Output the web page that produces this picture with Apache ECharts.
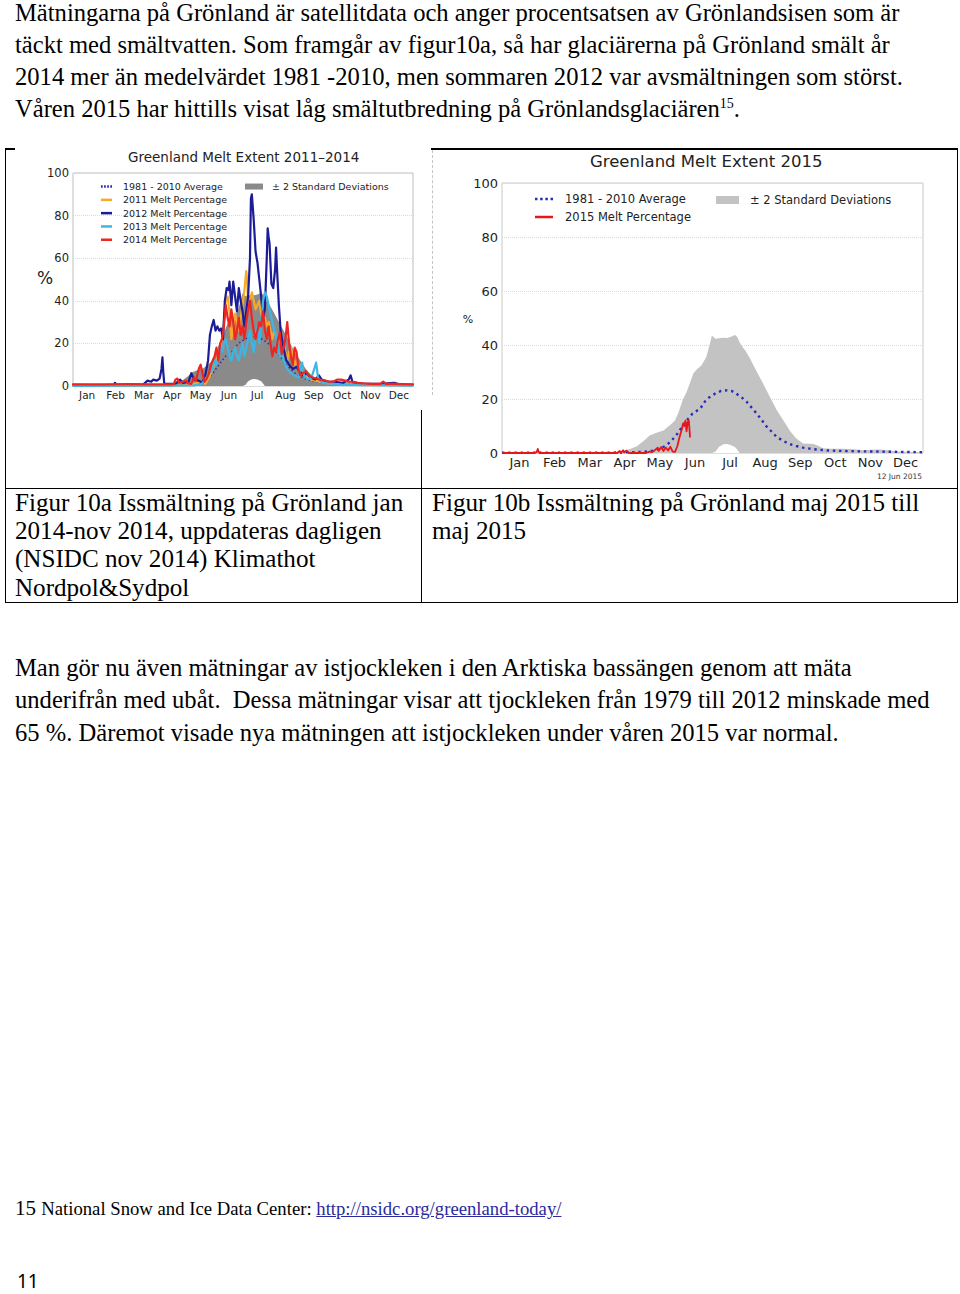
<!DOCTYPE html>
<html lang="sv">
<head>
<meta charset="utf-8">
<title>Grönland issmältning</title>
<script src="https://cdn.jsdelivr.net/npm/echarts@6.0.0/dist/echarts.min.js"></script>
<style>
html,body{margin:0;padding:0;background:#fff;}
body{position:relative;width:960px;height:1294px;overflow:hidden;font-family:"Liberation Serif","Times New Roman",serif;color:#000;}
.t{position:absolute;white-space:nowrap;font-size:24.6px;line-height:1;}
.cap{position:absolute;white-space:nowrap;font-size:25.1px;line-height:1;}
.hl{position:absolute;background:#000;}
sup{font-size:14px;vertical-align:9px;line-height:0;}
#chartA{position:absolute;left:10px;top:150px;width:422px;height:262px;}
#chartB{position:absolute;left:433px;top:150px;width:522px;height:333px;}
.fn{position:absolute;left:15px;top:1198px;font-size:21px;line-height:1;white-space:nowrap;}
.fn span{font-size:18.7px;}
.fn a{color:#2a2a9e;text-decoration:underline;}
.pg{position:absolute;left:17px;top:1273px;font-family:"Noto Sans","Liberation Sans",sans-serif;font-size:19px;line-height:17px;height:17px;}
</style>
</head>
<body>
<div class="t" style="left:15px;top:1px">Mätningarna på Grönland är satellitdata och anger procentsatsen av Grönlandsisen som är</div>
<div class="t" style="left:15px;top:33px">täckt med smältvatten. Som framgår av figur10a, så har glaciärerna på Grönland smält år</div>
<div class="t" style="left:15px;top:65px">2014 mer än medelvärdet 1981 -2010, men sommaren 2012 var avsmältningen som störst.</div>
<div class="t" style="left:15px;top:97px">Våren 2015 har hittills visat låg smältutbredning på Grönlandsglaciären<sup>15</sup>.</div>

<!-- table frame -->
<div class="hl" style="left:5px;top:148px;width:10px;height:2px"></div>
<div class="hl" style="left:431px;top:148px;width:527px;height:2px"></div>
<div class="hl" style="left:5px;top:148px;width:1px;height:455px"></div>
<div class="hl" style="left:957px;top:148px;width:1px;height:455px"></div>
<div class="hl" style="left:5px;top:488px;width:953px;height:1px"></div>
<div class="hl" style="left:5px;top:602px;width:953px;height:1px"></div>
<div class="hl" style="left:421px;top:410px;width:1px;height:193px"></div>
<div style="position:absolute;left:432px;top:150px;height:245px;border-left:1px dashed #c4c4c4"></div>

<div id="chartA"></div>
<div id="chartB"></div>

<div class="cap" style="left:15px;top:490px">Figur 10a Issmältning på Grönland jan</div>
<div class="cap" style="left:15px;top:518px">2014-nov 2014, uppdateras dagligen</div>
<div class="cap" style="left:15px;top:546px">(NSIDC nov 2014) Klimathot</div>
<div class="cap" style="left:15px;top:575px">Nordpol&amp;Sydpol</div>
<div class="cap" style="left:432px;top:490px">Figur 10b Issmältning på Grönland maj 2015 till</div>
<div class="cap" style="left:432px;top:518px">maj 2015</div>

<div class="t" style="left:15px;top:656px">Man gör nu även mätningar av istjockleken i den Arktiska bassängen genom att mäta</div>
<div class="t" style="left:15px;top:688px">underifrån med ubåt.&nbsp; Dessa mätningar visar att tjockleken från 1979 till 2012 minskade med</div>
<div class="t" style="left:15px;top:721px">65 %. Däremot visade nya mätningen att istjockleken under våren 2015 var normal.</div>

<div class="fn">15 <span>National Snow and Ice Data Center: <a href="http://nsidc.org/greenland-today/">http://nsidc.org/greenland-today/</a></span></div>
<div class="pg">11</div>

<script>
// ---------- data ----------
const months = ['Jan','Feb','Mar','Apr','May','Jun','Jul','Aug','Sep','Oct','Nov','Dec'];

// 1981-2010 climatology: ±2 standard deviation envelope (day of year, % melt)
const climDays = [0,60,90,100,105,111,117,123,128,134,140,146,150,153,157,160,163,166,169,173,177,180,182,185,188,192,195,198,202,204,206,209,211,215,218,221,226,232,238,244,250,255,261,266,270,275,278,285,296,305,313,320,327,335,342,350,365];
const sdUpper  = [0.3,0.3,0.4,0.5,0.8,1.5,2.5,4.5,6.5,7.5,8.3,10.5,12,15,20,22.5,26,29.5,31,32.5,35.5,40,43.5,42.3,42.5,42.7,42.6,43,43.7,43,41,39,38,35,32.5,30,26,21,16,12,8,5.5,3.5,3.4,3.3,2.5,1.8,1.6,1.6,1.4,1.0,1.2,1.3,1.0,0.6,0.5,0.3];
const sdLower  = [0,0,0,0,0,0,0,0,0,0,0,0,0,0,0,0,0,0,0,0,0,0,0,0.5,2.2,3.2,3.3,3.0,2.2,1.2,0,0,0,0,0,0,0,0,0,0,0,0,0,0,0,0,0,0,0,0,0,0,0,0,0,0,0];

// 1981-2010 average
const avgDays = [0,90,105,115,123,130,134,139,143,147,151,155,160,165,172,177,182,186,190,195,199,203,208,212,216,221,225,229,234,238,243,247,251,255,261,267,275,284,300,313,330,365];
const avgMelt = [0.1,0.1,0.2,0.3,0.5,0.8,1.2,2,3,4.6,6.5,9,12,14.5,16.5,19.8,21.3,22.3,23,23.2,23,22,20.5,19,17,14.5,12.3,10,7.8,6,4.7,3.8,3.1,2.6,2,1.6,1.2,0.9,0.7,0.6,0.5,0.3];

// 2011
const days2011 = [0,120,130,138,142,146,150,154,158,161,164,166,168,170,172,174,176,178,180,182,184,186,187,188,190,192,194,196,198,200,202,204,206,208,210,212,214,216,218,220,222,224,226,228,230,232,234,236,238,240,242,245,248,252,256,260,265,270,280,300,365];
const melt2011 = [0.2,0.3,1,2,1,4,8,12,18,25,40,42,35,22,28,34,30,26,32,38,45,54,50,36,40,44,40,36,38,40,34,30,32,28,30,26,22,26,24,20,22,18,20,16,12,16,18,14,10,12,8,10,5,4,3,2.5,2,1.5,1,0.5,0.3];

// 2012
const days2012 = [0,20,44,45,47,75,80,84,86,90,93,95,96,97,98,110,115,118,124,127,130,135,139,142,145,147,149,151,153,155,157,159,161,163,165,167,168,170,172,174,176,178,180,182,184,186,188,190,191,192,194,196,198,200,202,204,206,208,209,210,211,213,215,217,218,219,221,223,226,229,232,236,240,243,247,251,255,260,264,267,272,280,290,296,298,300,310,330,345,350,365];
const melt2012 = [0.5,0.4,0.5,1.5,0.5,0.5,2.5,2,3,2.5,3.5,8,13.5,6,1,1,3,1.5,2,6,3,2.5,1.5,5,12,24,28,31,26,28,26,27,22,40,46,45,49,38,49,42,35,46,40,35,28,35,42,60,88,90,78,63,58,50,42,32,36,60,74,70,67,48,46,55,65,55,38,25,18,12,10,8,9,7,5,6,4,3,5,3,2,2,1.5,3,5,2,1,1,1.5,0.8,0.5];

// 2013
const days2013 = [0,130,138,142,146,150,152,154,156,158,160,162,164,166,168,170,172,174,176,178,180,182,184,186,188,190,192,194,196,198,200,202,204,206,208,210,212,214,216,218,220,222,224,226,228,230,234,238,242,244,246,248,252,256,259,261,263,266,270,280,290,365];
const melt2013 = [0.1,0.3,1,3,6,8,12,10,14,18,16,20,22,18,14,12,16,18,14,12,16,20,14,18,22,26,20,16,24,28,20,30,40,44,42,38,34,30,26,24,18,14,16,12,10,8,6,5,4,8,11,5,3,4,8,11,4,2,1.5,1,0.5,0.2];

// 2014
const days2014 = [0,30,60,90,108,110,112,114,118,121,124,127,130,132,135,137,139,141,143,146,148,150,152,154,156,158,160,162,164,166,168,170,172,174,176,178,180,182,184,186,188,190,192,194,196,198,200,202,204,206,208,210,212,214,216,218,220,222,224,226,228,230,232,234,236,238,240,242,244,247,250,253,257,261,265,270,275,280,284,288,292,296,300,305,312,320,330,333,336,345,365];
const melt2014 = [0.8,0.8,0.9,0.8,0.8,3,3.5,1.5,2,2.5,1.2,1,4,2.5,8,10,6,2,3,6,10,12,14,18,12,20,22,28,38,32,28,36,30,22,26,32,24,28,22,30,36,40,32,26,22,26,30,28,35,26,22,28,20,14,18,16,22,25,15,18,22,30,20,14,10,18,16,8,5,6,7,5,4,3.5,3,2.5,2,2.2,3,3,2.5,2,2,1.5,1.2,1,1,2,1,1,0.8];

// 2015 (until 12 Jun)
const days2015 = [1,28,30,31,32,34,100,102,103,105,106,108,110,125,128,130,133,135,136,138,140,142,144,146,148,150,152,154,156,157,158,159,160,161,162,163];
const melt2015 = [0,0,0.3,1.5,0.2,0,0,0.8,0,1,0.2,0.9,0,0,0.5,0.3,1.2,2,0.8,2.2,0.7,2,0.9,2.3,0.5,0.4,2.5,6,9,11,10,12,8,11.5,12,6];

// ---------- helpers ----------
const FONT = 'DejaVu Sans';
const pair = (d, v) => d.map((x, i) => [x, v[i]]);

function lineSeries(name, days, vals, color, width, extra) {
  return Object.assign({
    name: name, type: 'line', data: pair(days, vals),
    xAxisIndex: 0, yAxisIndex: 0, symbol: 'none', showSymbol: false,
    smooth: false, silent: true, emphasis: { disabled: true },
    color: color, itemStyle: { color: color },
    lineStyle: { color: color, width: width, join: 'round', cap: 'round' }
  }, extra || {});
}
function bandSeries(color) {
  return [
    { name: '± 2 Standard Deviations', type: 'line', data: pair(climDays, sdUpper),
      symbol: 'none', silent: true, emphasis: { disabled: true },
      color: color, itemStyle: { color: color },
      lineStyle: { width: 0, opacity: 0 }, areaStyle: { color: color, opacity: 1 } },
    { name: 'sdLower', type: 'line', data: pair(climDays, sdLower),
      symbol: 'none', silent: true, emphasis: { disabled: true },
      color: '#ffffff', itemStyle: { color: '#ffffff' },
      lineStyle: { width: 0, opacity: 0 }, areaStyle: { color: '#ffffff', opacity: 1 } }
  ];
}
function axes(cfg) {
  return {
    xAxis: [
      { type: 'value', min: 0, max: 365, show: false },
      { type: 'category', data: months, position: 'bottom', boundaryGap: true,
        axisLine: { show: false }, axisTick: { show: false }, splitLine: { show: false },
        axisLabel: { interval: 0, fontSize: cfg.mFont, color: '#1e1e1e', margin: cfg.mMargin, fontFamily: FONT } }
    ],
    yAxis: [
      { type: 'value', min: 0, max: 100, interval: 20,
        axisLine: { show: false }, axisTick: { show: false },
        axisLabel: { fontSize: cfg.yFont, color: '#1e1e1e', margin: cfg.yMargin, fontFamily: FONT },
        splitLine: { show: true, lineStyle: { color: '#dadada', type: 'dotted', width: 1 } } }
    ]
  };
}
function dots(w, h, n, d) {
  const step = (w - d) / (n - 1);
  let p = 'path://';
  for (let i = 0; i < n; i++) {
    const x = +(i * step).toFixed(2);
    p += 'M' + x + ',0h' + d + 'v' + h + 'h-' + d + 'z';
  }
  return p;
}

// ---------- Figure 10a ----------
const chartA = echarts.init(document.getElementById('chartA'), null, { renderer: 'svg' });
const axA = axes({ mFont: 10.5, mMargin: 3, yFont: 11.5, yMargin: 4 });
chartA.setOption({
  animation: false,
  textStyle: { fontFamily: FONT },
  title: { text: 'Greenland Melt Extent 2011–2014', left: 118, top: 0, padding: 0,
    textStyle: { fontSize: 13.5, fontWeight: 'normal', color: '#222', fontFamily: FONT } },
  grid: { left: 63, top: 23, width: 340, height: 213, show: true, borderColor: '#bdbdbd', borderWidth: 1,
    backgroundColor: '#ffffff', containLabel: false, outerBoundsMode: 'none' },
  xAxis: axA.xAxis, yAxis: axA.yAxis,
  legend: [
    { orient: 'vertical', left: 91, top: 29.9, padding: 0, itemGap: 0, itemWidth: 11, itemHeight: 2.5,
      selectedMode: false, itemStyle: { borderWidth: 0 },
      textStyle: { fontSize: 9.5, color: '#222', lineHeight: 13.3, padding: [0, 0, 0, 6], fontFamily: FONT },
      data: [
        { name: '1981 - 2010 Average', icon: dots(11, 2.5, 4, 1.7) },
        { name: '2011 Melt Percentage', icon: 'rect' },
        { name: '2012 Melt Percentage', icon: 'rect' },
        { name: '2013 Melt Percentage', icon: 'rect' },
        { name: '2014 Melt Percentage', icon: 'rect' }
      ] },
    { orient: 'vertical', left: 235, top: 29.9, padding: 0, itemGap: 0, itemWidth: 18, itemHeight: 6,
      selectedMode: false, itemStyle: { borderWidth: 0 },
      textStyle: { fontSize: 9.5, color: '#222', lineHeight: 13.3, padding: [0, 0, 0, 4], fontFamily: FONT },
      data: [{ name: '± 2 Standard Deviations', icon: 'rect' }] }
  ],
  graphic: [
    { type: 'text', x: 35, y: 128, silent: true,
      style: { text: '%', fontSize: 17, fill: '#222', fontFamily: FONT, align: 'center', verticalAlign: 'middle' } }
  ],
  series: bandSeries('#8a8a8a').concat([
    lineSeries('1981 - 2010 Average', avgDays, avgMelt, '#2b2bb0', 1.5, { lineStyle: { color: '#2b2bb0', width: 1.5, type: [1.5, 2.5] } }),
    lineSeries('2011 Melt Percentage', days2011, melt2011, '#f7a92a', 2.2),
    lineSeries('2012 Melt Percentage', days2012, melt2012, '#1c1c96', 2.2),
    lineSeries('2013 Melt Percentage', days2013, melt2013, '#3db6e5', 2.2),
    lineSeries('2014 Melt Percentage', days2014, melt2014, '#ee2622', 2.2)
  ])
});

// ---------- Figure 10b ----------
const chartB = echarts.init(document.getElementById('chartB'), null, { renderer: 'svg' });
const axB = axes({ mFont: 13, mMargin: 3, yFont: 13, yMargin: 4 });
chartB.setOption({
  animation: false,
  textStyle: { fontFamily: FONT },
  title: [
    { text: 'Greenland Melt Extent 2015', left: 157, top: 3, padding: 0,
      textStyle: { fontSize: 16.5, fontWeight: 'normal', color: '#222', fontFamily: FONT } },
    { text: '12 Jun 2015', right: 33, top: 322, padding: 0,
      textStyle: { fontSize: 7.5, fontWeight: 'normal', color: '#333', fontFamily: FONT } }
  ],
  grid: { left: 69, top: 33, width: 421, height: 270, show: true, borderColor: '#c8c8c8', borderWidth: 1,
    backgroundColor: '#ffffff', containLabel: false, outerBoundsMode: 'none' },
  xAxis: axB.xAxis, yAxis: axB.yAxis,
  legend: [
    { orient: 'vertical', left: 102, top: 40, padding: 0, itemGap: 0, itemWidth: 18, itemHeight: 2.5,
      selectedMode: false, itemStyle: { borderWidth: 0 },
      textStyle: { fontSize: 11.5, color: '#222', lineHeight: 18, padding: [0, 0, 0, 7], fontFamily: FONT },
      data: [
        { name: '1981 - 2010 Average', icon: dots(18, 2.5, 4, 2.5) },
        { name: '2015 Melt Percentage', icon: 'rect' }
      ] },
    { orient: 'vertical', left: 283, top: 41, padding: 0, itemGap: 0, itemWidth: 23, itemHeight: 8,
      selectedMode: false, itemStyle: { borderWidth: 0 },
      textStyle: { fontSize: 11.5, color: '#222', lineHeight: 18, padding: [0, 0, 0, 6], fontFamily: FONT },
      data: [{ name: '± 2 Standard Deviations', icon: 'rect' }] }
  ],
  graphic: [
    { type: 'text', x: 35, y: 169, silent: true,
      style: { text: '%', fontSize: 11, fill: '#222', fontFamily: FONT, align: 'center', verticalAlign: 'middle' } }
  ],
  series: bandSeries('#c3c3c3').concat([
    lineSeries('1981 - 2010 Average', avgDays, avgMelt, '#2b2bb8', 2.4, { lineStyle: { color: '#2b2bb8', width: 2.4, type: [2.4, 3.8] } }),
    lineSeries('2015 Melt Percentage', days2015, melt2015, '#e8161b', 1.8)
  ])
});
</script>
</body>
</html>
